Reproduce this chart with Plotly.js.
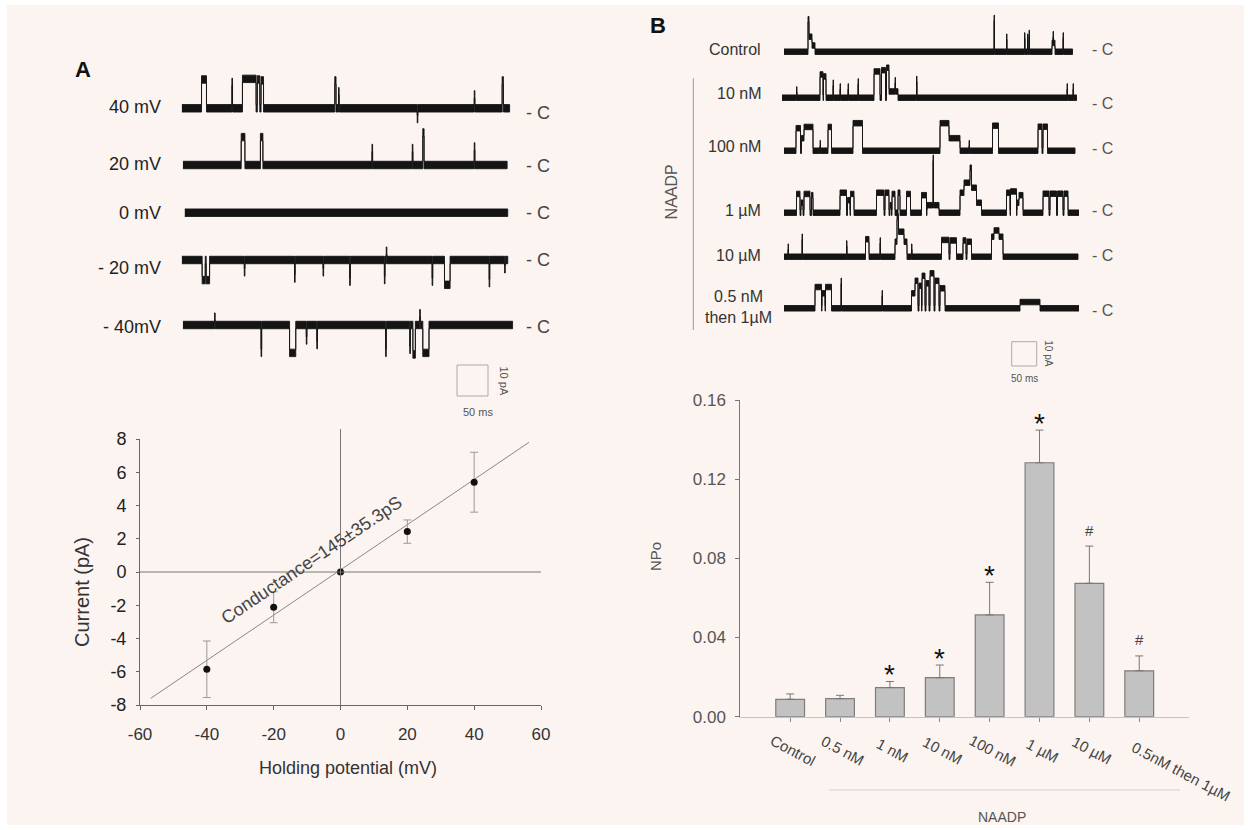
<!DOCTYPE html>
<html>
<head>
<meta charset="utf-8">
<script src="https://cdn.plot.ly/plotly-3.0.1.min.js"></script>
<style>html,body{margin:0;padding:0;background:#fff;}#chart{width:1248px;height:830px;}</style>
</head>
<body>
<div id="chart"></div>
<script>
// ---------------- DATA ----------------
// Panel A: I-V relation
const ivVoltage = [-40, -20, 0, 20, 40];
const ivCurrent = [-5.85, -2.12, 0, 2.43, 5.4];
const ivError   = [1.7, 0.93, 0, 0.7, 1.8];
const fitVoltage = [-56.8, 56.4];
const fitCurrent = [-7.6, 7.8];
const conductanceText = 'Conductance=145±35.3pS';
const ivXTicks = [-60, -40, -20, 0, 20, 40, 60];
const ivYTicks = [-8, -6, -4, -2, 0, 2, 4, 6, 8];

// Panel A single-channel traces: [start ms, end ms, amplitude pA]
const traceLabelsA = ['40 mV', '20 mV', '0 mV', '- 20 mV', '- 40mV'];
const spanA40 = [0, 529];
const eventsA40 = [[32,40,9.3],[81,82,8.5],[98,120,9.5],[122,126,9.3],[128,132,9],[247,249,9],[253,254,5.5],[380,381,-3.5],[472,473,4.5],[517,519,9]];
const spanA20 = [2, 525];
const eventsA20 = [[96,102,9],[127,131,9],[307,308,5.5],[372,373,5.5],[389,391,10.5],[472,473,6]];
const spanA0 = [5, 526];
const eventsA0 = [];
const spanAm20 = [0, 526];
const eventsAm20 = [[33,38,-6.5],[39.5,45,-6.5],[101,102,-4],[182,183,-6],[228,229,-4],[271,272,-7],[327,328,-6.5],[330,331,3],[404,405,-7],[424,433,-8],[496,497,-7.5],[521,522,-3]];
const spanAm40 = [2, 534];
const eventsAm40 = [[53,54,2.7],[128,129,-9],[174,184,-9],[201,202,-5],[218,219,-6.5],[329,330,-9],[368,369,-8],[373,377,-9.5],[384,385,3.8],[389,399,-9]];

// Panel B single-channel traces
const traceLabelsB = ['Control', '10 nM', '100 nM', '1 µM', '10 µM', '0.5 nM<br>then 1µM'];
const spanBctl = [0, 577];
const eventsBctl = [[48,50,13],[50,56,6],[56,62,2.5],[420,421,13.5],[445,446,6],[481,482,6.5],[487,488,6],[490,491,7.5],[536,538,3.5],[538,539,7],[539,542,3.5],[558,559,6.5]];
const spanB10n = [-4, 585];
const eventsB10n = [[25,26,3.3],[72,78,9.3],[79,84,8.5],[98,99,6],[112,113,4.5],[128,129,4.5],[148,149,6.5],[180,192,10.5],[195,203,11],[205,210,12],[210,222,2.5],[222,223,7],[223,228,2.5],[265,266,7.5],[566,567,4.5],[578,579,4.5]];
const spanB100n = [0, 582];
const eventsB100n = [[24,33,9],[35,40,5],[40,58,9.5],[72,73,3],[88,95,9.5],[138,157,11],[312,330,11],[330,352,5],[370,371,3],[417,429,10],[508,516,9.6],[518,527,9.6]];
const spanB1u = [0, 592];
const eventsB1u = [[25,32,7.5],[34,38,4],[40,52,7.5],[55,58,7],[112,125,8],[127,132,5],[133,140,7.5],[185,200,8],[202,210,8],[212,215,3],[216,222,7.5],[228,232,8],[245,253,7.5],[275,285,7],[286,298,3],[298,299,22],[299,310,3],[352,360,8],[360,372,12],[372,375,18],[375,385,10],[385,395,4],[445,452,8],[453,465,8.5],[466,470,4],[470,478,7],[518,530,7.6],[532,545,7.6],[547,558,7.6],[560,568,7.6]];
const spanB10u = [0, 588];
const eventsB10u = [[8,9,4],[36,37,8],[125,126,5.3],[163,170,7],[192,193,6.5],[222,226,6],[226,229,16],[229,240,10],[240,246,6],[255,256,4],[315,330,6.7],[332,345,6.5],[358,364,6.5],[366,375,6],[415,420,8],[420,430,10.5],[430,438,8]];
const spanBthen = [0, 592];
const eventsBthen = [[62,75,8.5],[76,82,6],[83,95,8.5],[114,115,11],[196,197,6],[255,262,6],[262,268,11],[270,275,9],[276,282,13],[284,290,10],[292,300,14],[302,310,11],[312,322,8],[472,512,2.5]];

// Panel B bar chart
const npoCategories = ['Control','0.5 nM','1 nM','10 nM','100 nM','1 µM','10 µM','0.5nM then 1µM'];
const npoValues = [0.0088, 0.0091, 0.0147, 0.0197, 0.0514, 0.1283, 0.0674, 0.0232];
const npoErrors = [0.0027, 0.0017, 0.0031, 0.0064, 0.0165, 0.0165, 0.0188, 0.0075];
const npoMarks  = ['', '', '*', '*', '*', '*', '#', '#'];
const npoTicks = [0, 0.04, 0.08, 0.12, 0.16];

// ---------------- LAYOUT HELPERS ----------------
const W = 1248, H = 830;
const px = x => x / W;
const py = y => 1 - y / H;
const FONT = 'Liberation Sans, Arial, Helvetica, sans-serif';

function band(span, events, h) {
  const xs = [span[0]], ys = [0];
  let lastEnd = null;
  events.forEach((ev, k) => {
    const [s, e, a] = ev;
    if (s !== lastEnd) { xs.push(s); ys.push(0); }
    xs.push(s, e); ys.push(a, a);
    const nx = events[k + 1];
    if (!nx || nx[0] !== e) { xs.push(e); ys.push(0); }
    lastEnd = e;
  });
  xs.push(span[1]); ys.push(0);
  const X = xs.concat(xs.slice().reverse());
  const Y = ys.map(v => v + h).concat(ys.slice().reverse().map(v => v - h));
  return { X, Y };
}

const data = [];
const annotations = [];
const shapes = [];
const layout = {
  width: W, height: H,
  margin: { l: 0, r: 0, t: 0, b: 0 },
  paper_bgcolor: '#ffffff',
  plot_bgcolor: 'rgba(0,0,0,0)',
  showlegend: false,
  font: { family: FONT, color: '#333' },
};

function ann(x, y, text, o = {}) {
  annotations.push(Object.assign({
    xref: 'paper', yref: 'paper', x: px(x), y: py(y), text,
    showarrow: false, xanchor: 'center', yanchor: 'middle',
    font: { family: FONT, size: 17, color: '#333' }
  }, o));
}

// background
shapes.push({ type: 'rect', xref: 'paper', yref: 'paper', x0: px(7), x1: px(1244), y0: py(825), y1: py(5),
  fillcolor: '#fcf4f1', line: { width: 0 }, layer: 'below' });

// ---------------- IV plot (x / y) ----------------
layout.xaxis = {
  domain: [px(140), px(541)], range: [-60, 60], tickvals: ivXTicks, ticktext: ivXTicks.map(String),
  showline: true, linecolor: '#666', linewidth: 1, ticks: 'outside', ticklen: 4, tickcolor: '#666',
  showgrid: false, zeroline: false, tickfont: { size: 17, color: '#333', family: FONT },
  ticklabelstandoff: 10, anchor: 'y', fixedrange: true
};
layout.yaxis = {
  domain: [py(705), py(439)], range: [-8, 8], tickvals: ivYTicks, ticktext: ivYTicks.map(String),
  showline: true, linecolor: '#666', linewidth: 1, ticks: 'outside', ticklen: 3, tickcolor: '#666',
  showgrid: false, zeroline: false, tickfont: { size: 18, color: '#222', family: FONT },
  ticklabelstandoff: 6, anchor: 'x', fixedrange: true
};
shapes.push({ type: 'line', xref: 'x', yref: 'y', x0: -60, x1: 60, y0: 0, y1: 0, line: { color: '#777', width: 1 } });
shapes.push({ type: 'line', xref: 'x', yref: 'paper', x0: 0, x1: 0, y0: py(705), y1: py(429), line: { color: '#777', width: 1 } });
data.push({ x: fitVoltage, y: fitCurrent, xaxis: 'x', yaxis: 'y', mode: 'lines', line: { color: '#888', width: 1 }, hoverinfo: 'skip' });
data.push({
  x: ivVoltage, y: ivCurrent, xaxis: 'x', yaxis: 'y', mode: 'markers',
  marker: { color: '#111', size: 7 },
  error_y: { type: 'data', array: ivError, color: '#999', thickness: 1, width: 4 }
});
annotations.push({ xref: 'x', yref: 'y', x: -8.6, y: 0.7, text: conductanceText, textangle: -34, showarrow: false,
  font: { family: FONT, size: 18, color: '#444' } });
ann(82, 592, 'Current (pA)', { textangle: -90, font: { family: FONT, size: 20, color: '#333' } });
ann(348, 768, 'Holding potential (mV)', { font: { family: FONT, size: 18, color: '#333' } });

// ---------------- Bar chart (x2 / y2) ----------------
layout.xaxis2 = {
  domain: [px(740.3), px(1189.1)], type: 'category', range: [-1, 8],
  showline: true, linecolor: '#c4c4c4', linewidth: 1, ticks: 'outside', ticklen: 4, tickcolor: '#888',
  showticklabels: false, showgrid: false, zeroline: false, anchor: 'y2', fixedrange: true
};
layout.yaxis2 = {
  domain: [py(716.7), py(400)], range: [0, 0.16], tickvals: npoTicks, tickformat: '.2f',
  showline: true, linecolor: '#777', linewidth: 1, ticks: 'outside', ticklen: 4, tickcolor: '#777',
  showgrid: false, zeroline: false, tickfont: { size: 17, color: '#555', family: FONT },
  ticklabelstandoff: 6, anchor: 'x2', fixedrange: true
};
data.push({
  type: 'bar', x: npoCategories, y: npoValues, xaxis: 'x2', yaxis: 'y2', width: 0.577,
  marker: { color: '#c2c2c2', line: { color: '#7d7d7d', width: 1.2 } },
  error_y: { type: 'data', array: npoErrors, arrayminus: npoErrors.map(() => 0), symmetric: false,
             color: '#777', thickness: 1, width: 4 }
});
npoCategories.forEach((c, i) => {
  if (npoMarks[i]) {
    const star = npoMarks[i] === '*';
    annotations.push({ xref: 'x2', yref: 'y2', x: c, y: npoValues[i] + npoErrors[i], text: npoMarks[i],
      showarrow: false, xanchor: 'center', yanchor: 'middle', yshift: star ? 7 : 16,
      font: { family: FONT, size: star ? 28 : 15, color: star ? '#111' : '#444' } });
  }
  const extra = Math.max(0, c.length - 8);
  annotations.push({ xref: 'x2', yref: 'paper', x: c, y: py(750), text: c, textangle: 28, showarrow: false,
    xanchor: 'center', yanchor: 'middle', xshift: 3 + extra * 6.5, yshift: -extra * 3.5,
    font: { family: FONT, size: 15, color: '#444' } });
});
ann(655.3, 556.7, 'NPo', { textangle: -90, font: { family: FONT, size: 15, color: '#555' } });
shapes.push({ type: 'line', xref: 'paper', yref: 'paper', x0: px(829), x1: px(1180), y0: py(790), y1: py(790), line: { color: '#cfcfcf', width: 1 } });
ann(1001.7, 816.7, 'NAADP', { font: { family: FONT, size: 14, color: '#555' } });

// ---------------- Single channel traces ----------------
let axisN = 3;
function addTrace(span, events, base, xPx, tRange, ppa, halfNoise) {
  const n = axisN++;
  const top = Math.max(0, base - 70), bottom = Math.min(H, base + 50);
  layout['xaxis' + n] = { domain: [px(xPx[0]), px(xPx[1])], range: tRange, visible: false, fixedrange: true, anchor: 'y' + n };
  layout['yaxis' + n] = { domain: [py(bottom), py(top)], range: [-(bottom - base) / ppa, (base - top) / ppa],
                          visible: false, fixedrange: true, anchor: 'x' + n };
  const b = band(span, events, halfNoise);
  data.push({ x: b.X, y: b.Y, xaxis: 'x' + n, yaxis: 'y' + n, mode: 'lines', fill: 'toself',
    fillcolor: '#141414', line: { color: '#141414', width: 0.9 }, hoverinfo: 'skip' });
}

// Panel A traces: 50 ms = 31 px, 10 pA = 31 px
const A_X = [181.7, 513.3], A_T = [0, 535], A_PPA = 3.1;
const rowsA = [
  [spanA40, eventsA40, 108.3, 106.7, 112.7],
  [spanA20, eventsA20, 165, 164, 166],
  [spanA0, eventsA0, 212.7, 213.3, 212.7],
  [spanAm20, eventsAm20, 260, 268.3, 260],
  [spanAm40, eventsAm40, 325, 326.7, 327.3],
];
rowsA.forEach((r, i) => {
  addTrace(r[0], r[1], r[2], A_X, A_T, A_PPA, 1.2);
  ann(163, r[3], traceLabelsA[i], { xanchor: 'right', font: { family: FONT, size: 18, color: '#222' } });
  ann(538, r[4], '- C', { font: { family: FONT, size: 18, color: '#444' } });
});

// Panel B traces: 50 ms = 25 px, 10 pA = 25 px
const B_X = [781, 1079], B_T = [-6, 590], B_PPA = 2.5;
const rowsB = [
  [spanBctl, eventsBctl, 51.7, 50, 49.3],
  [spanB10n, eventsB10n, 97.7, 93.3, 103.3],
  [spanB100n, eventsB100n, 150.7, 146.7, 148.3],
  [spanB1u, eventsB1u, 212.7, 210.7, 210],
  [spanB10u, eventsB10u, 256.7, 256, 256],
  [spanBthen, eventsBthen, 308.3, 307.5, 310],
];
rowsB.forEach((r, i) => {
  addTrace(r[0], r[1], r[2], B_X, B_T, B_PPA, 1.1);
  if (i === 5) {
    ann(738.3, r[3], traceLabelsB[i], { align: 'center', font: { family: FONT, size: 16, color: '#333' } });
  } else {
    ann(763, r[3], traceLabelsB[i], { xanchor: 'right', font: { family: FONT, size: 16, color: '#333' } });
  }
  ann(1102.7, r[4], '- C', { font: { family: FONT, size: 16, color: '#555' } });
});
shapes.push({ type: 'line', xref: 'paper', yref: 'paper', x0: px(693.3), x1: px(693.3), y0: py(330), y1: py(78.3), line: { color: '#9a9a9a', width: 1 } });
ann(671.7, 191.7, 'NAADP', { textangle: -90, font: { family: FONT, size: 16, color: '#555' } });

// Scale bars
shapes.push({ type: 'rect', xref: 'paper', yref: 'paper', x0: px(457), x1: px(488), y0: py(396), y1: py(365), line: { color: '#aaa', width: 1 } });
ann(503.5, 381, '10 pA', { textangle: 90, font: { family: FONT, size: 11, color: '#555' } });
ann(478, 412, '50 ms', { font: { family: FONT, size: 11, color: '#555' } });
shapes.push({ type: 'rect', xref: 'paper', yref: 'paper', x0: px(1011.7), x1: px(1036.7), y0: py(366), y1: py(341.7), line: { color: '#aaa', width: 1 } });
ann(1049, 353.3, '10 pA', { textangle: 90, font: { family: FONT, size: 10, color: '#555' } });
ann(1024, 378, '50 ms', { font: { family: FONT, size: 10, color: '#555' } });

// Panel letters
ann(82.5, 70, '<b>A</b>', { font: { family: FONT, size: 22, color: '#111' } });
ann(657.5, 25.5, '<b>B</b>', { font: { family: FONT, size: 22, color: '#111' } });

layout.annotations = annotations;
layout.shapes = shapes;
Plotly.newPlot('chart', data, layout, { staticPlot: true, displayModeBar: false });
</script>
</body>
</html>
